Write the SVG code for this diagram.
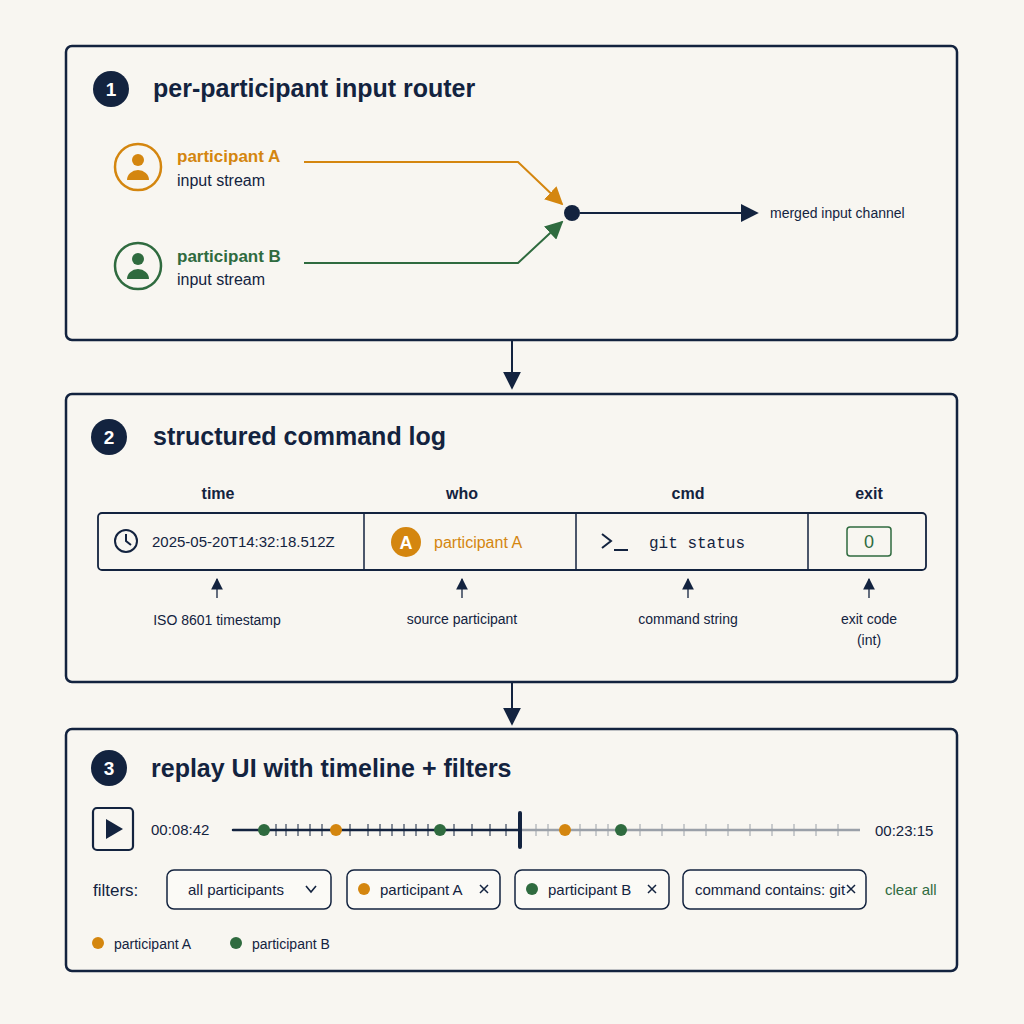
<svg xmlns="http://www.w3.org/2000/svg" width="1024" height="1024" viewBox="0 0 1024 1024">
<defs>
<style>
text{font-family:"Liberation Sans",Arial,sans-serif;fill:#13233f}
.panel{fill:none;stroke:#13233f;stroke-width:2.5}
.title{font-size:25px;font-weight:bold}
.num{fill:#fff;font-size:19px;font-weight:bold}
.lbl{font-size:16px}
.small{font-size:14px}
.mono{font-family:"Liberation Mono","DejaVu Sans Mono",monospace;font-size:16px}
.chip{fill:#fbfaf6;stroke:#13233f;stroke-width:1.5}
.tick{stroke:#13233f;stroke-width:1}
.tickg{stroke:#9aa0a8;stroke-width:1}
</style>
<marker id="an" viewBox="0 0 10 10" refX="9" refY="5" markerWidth="9" markerHeight="9" orient="auto"><path d="M0,0L10,5L0,10z" fill="#13233f"/></marker>
<marker id="ao" viewBox="0 0 10 10" refX="9" refY="5" markerWidth="9" markerHeight="9" orient="auto"><path d="M0,0L10,5L0,10z" fill="#d4860f"/></marker>
<marker id="ag" viewBox="0 0 10 10" refX="9" refY="5" markerWidth="9" markerHeight="9" orient="auto"><path d="M0,0L10,5L0,10z" fill="#2f6b3f"/></marker>
</defs>
<rect width="1024" height="1024" fill="#f8f6f1"/>

<g id="panel1">
<rect class="panel" x="66" y="46" width="891" height="294" rx="6"/>
<circle cx="111" cy="89" r="18" fill="#13233f"/><text class="num" x="111" y="96" text-anchor="middle">1</text>
<text class="title" x="153" y="97">per-participant input router</text>
</g>
<g id="participantA">
<circle cx="138" cy="167" r="23" fill="none" stroke="#d4860f" stroke-width="2.5"/>
<circle cx="138" cy="160" r="6" fill="#d4860f"/><path d="M127,180a11,10 0 0 1 22,0z" fill="#d4860f"/>
<text x="177" y="162" font-size="17" font-weight="bold" style="fill:#d4860f">participant A</text>
<text class="lbl" x="177" y="186">input stream</text>
</g>
<g id="participantB">
<circle cx="138" cy="266" r="23" fill="none" stroke="#2f6b3f" stroke-width="2.5"/>
<circle cx="138" cy="259" r="6" fill="#2f6b3f"/><path d="M127,279a11,10 0 0 1 22,0z" fill="#2f6b3f"/>
<text x="177" y="262" font-size="17" font-weight="bold" style="fill:#2f6b3f">participant B</text>
<text class="lbl" x="177" y="285">input stream</text>
</g>
<g id="merge">
<circle cx="572" cy="213" r="8" fill="#13233f"/>
<text class="small" x="770" y="218">merged input channel</text>
</g>

<g id="panel2">
<rect class="panel" x="66" y="394" width="891" height="288" rx="6"/>
<circle cx="109" cy="437" r="18" fill="#13233f"/><text class="num" x="109" y="444" text-anchor="middle">2</text>
<text class="title" x="153" y="445">structured command log</text>
<g font-size="16" font-weight="bold">
<text x="218" y="499" text-anchor="middle" font-weight="bold">time</text>
<text x="462" y="499" text-anchor="middle" font-weight="bold">who</text>
<text x="688" y="499" text-anchor="middle" font-weight="bold">cmd</text>
<text x="869" y="499" text-anchor="middle" font-weight="bold">exit</text>
</g>
<rect x="98" y="513" width="828" height="57" rx="4" fill="none" stroke="#13233f" stroke-width="1.8"/>
<path d="M364,513V570M576,513V570M808,513V570" stroke="#13233f" stroke-width="1.5"/>
<circle cx="126" cy="541" r="11" fill="none" stroke="#13233f" stroke-width="2"/><path d="M126,534V541L131,545" fill="none" stroke="#13233f" stroke-width="2"/>
<text x="152" y="547" font-size="15">2025-05-20T14:32:18.512Z</text>
<circle cx="406" cy="542" r="15" fill="#d4860f"/><text x="406" y="549" text-anchor="middle" font-size="18" font-weight="bold" style="fill:#fff">A</text>
<text x="434" y="548" font-size="16" style="fill:#d4860f">participant A</text>
<path d="M602,534L611,541L602,548M614,550H628" fill="none" stroke="#13233f" stroke-width="2"/>
<text class="mono" x="649" y="548">git status</text>
<rect x="847" y="527" width="44" height="29" rx="3" fill="#f8f6f1" stroke="#2f6b3f" stroke-width="1.5"/>
<text x="869" y="548" text-anchor="middle" font-size="18" style="fill:#2f6b3f">0</text>
<g stroke="#13233f" stroke-width="1.3" marker-end="url(#an)">
<path d="M217,598V579"/><path d="M462,598V579"/><path d="M688,598V579"/><path d="M869,598V579"/>
</g>
<text class="small" x="217" y="625" text-anchor="middle">ISO 8601 timestamp</text>
<text class="small" x="462" y="624" text-anchor="middle">source participant</text>
<text class="small" x="688" y="624" text-anchor="middle">command string</text>
<text class="small" x="869" y="624" text-anchor="middle">exit code</text>
<text class="small" x="869" y="645" text-anchor="middle">(int)</text>
</g>

<g id="panel3">
<rect class="panel" x="66" y="729" width="891" height="242" rx="6"/>
<circle cx="109" cy="768" r="18" fill="#13233f"/><text class="num" x="109" y="775" text-anchor="middle">3</text>
<text class="title" x="151" y="777">replay UI with timeline + filters</text>
<rect x="93" y="808" width="40" height="42" rx="4" fill="none" stroke="#13233f" stroke-width="2.2"/>
<path d="M106,819L123,829L106,839z" fill="#13233f"/>
<text x="151" y="835" font-size="15">00:08:42</text>
<text x="875" y="836" font-size="15">00:23:15</text>
<path d="M233,830H520" stroke="#13233f" stroke-width="2.5" stroke-linecap="round"/>
<path d="M520,830H860" stroke="#9aa0a8" stroke-width="2.5"/>
<g class="tick"><path d="M276,824v12M286,824v12M298,824v12M310,824v12M322,824v12M350,824v12M368,824v12M380,824v12M392,824v12M404,824v12M416,824v12M428,824v12M454,824v12M472,824v12M490,824v12M506,824v12"/></g>
<g class="tickg"><path d="M536,824v12M548,824v12M580,824v12M596,824v12M608,824v12M640,824v12M662,824v12M684,824v12M706,824v12M728,824v12M750,824v12M772,824v12M794,824v12M816,824v12M838,824v12"/></g>
<path d="M520,813V847" stroke="#13233f" stroke-width="4" stroke-linecap="round"/>
<circle cx="264" cy="830" r="6" fill="#2f6b3f"/><circle cx="336" cy="830" r="6" fill="#d4860f"/><circle cx="440" cy="830" r="6" fill="#2f6b3f"/><circle cx="565" cy="830" r="6" fill="#d4860f"/><circle cx="621" cy="830" r="6" fill="#2f6b3f"/>
<text x="93" y="896" font-size="17">filters:</text>
<rect class="chip" x="167" y="870" width="164" height="39" rx="7"/>
<text x="188" y="895" font-size="15">all participants</text>
<path d="M306,886L311,892L316,886" fill="none" stroke="#13233f" stroke-width="1.6"/>
<rect class="chip" x="347" y="870" width="153" height="39" rx="7"/>
<circle cx="364" cy="889" r="6" fill="#d4860f"/><text x="380" y="895" font-size="15">participant A</text>
<path d="M480,885l8,8m0,-8l-8,8" stroke="#13233f" stroke-width="1.5"/>
<rect class="chip" x="515" y="870" width="154" height="39" rx="7"/>
<circle cx="532" cy="889" r="6" fill="#2f6b3f"/><text x="548" y="895" font-size="15">participant B</text>
<path d="M648,885l8,8m0,-8l-8,8" stroke="#13233f" stroke-width="1.5"/>
<rect class="chip" x="683" y="870" width="183" height="39" rx="7"/>
<text x="695" y="895" font-size="15">command contains: git</text>
<path d="M847,885l8,8m0,-8l-8,8" stroke="#13233f" stroke-width="1.5"/>
<text x="885" y="895" font-size="15" style="fill:#2f6b3f">clear all</text>
<circle cx="98" cy="943" r="6" fill="#d4860f"/><text x="114" y="949" font-size="14">participant A</text>
<circle cx="236" cy="943" r="6" fill="#2f6b3f"/><text x="252" y="949" font-size="14">participant B</text>
</g>

<g id="connectors" fill="none" stroke-width="2">
<path d="M304,162H518L562,204" stroke="#d4860f" marker-end="url(#ao)"/>
<path d="M304,263H518L562,222" stroke="#2f6b3f" marker-end="url(#ag)"/>
<path d="M580,213H757" stroke="#13233f" marker-end="url(#an)"/>
<path d="M512,340V388" stroke="#13233f" marker-end="url(#an)"/>
<path d="M512,682V724" stroke="#13233f" marker-end="url(#an)"/>
</g>
</svg>
